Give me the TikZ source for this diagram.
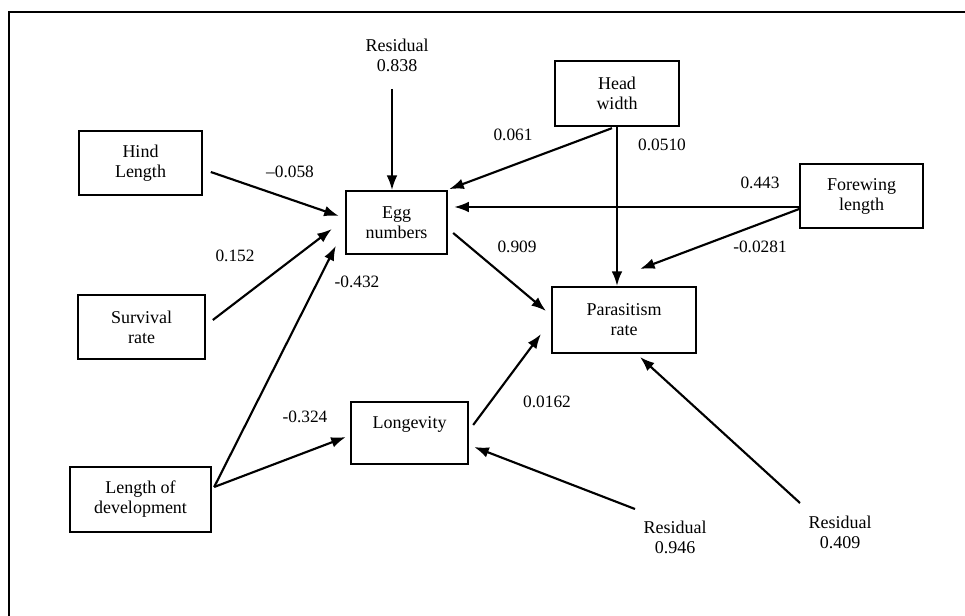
\documentclass[tikz,border=0pt]{standalone}
\usepackage{fontspec}
\setmainfont{Liberation Serif}
\usetikzlibrary{arrows.meta,calc}
\tikzset{
  box/.style={draw, line width=1.5pt, align=center, inner sep=0pt, font=\fontsize{13.5}{15}\selectfont},
  txt/.style={align=center, inner sep=0pt, font=\fontsize{13.5}{15}\selectfont},
  lbl/.style={inner sep=0pt, font=\fontsize{13}{15}\selectfont},
  arr/.style={line width=1.6pt, -{Latex[length=11pt,width=8pt]}},
}
\begin{document}
\begin{tikzpicture}[x=0.75pt,y=-0.75pt]
\useasboundingbox (0,0) rectangle (965,616);
\draw[line width=1.4pt] (965,12) -- (9,12) -- (9,616);

\node[box, minimum width=92pt, minimum height=48pt] (hind) at (140.5,163) {Hind\\Length};
\node[box, minimum width=76pt, minimum height=47pt] (egg) at (396.5,222.5) {Egg\\numbers};
\node[box, minimum width=93pt, minimum height=49pt] (head) at (617,93.5) {Head\\width};
\node[box, minimum width=92pt, minimum height=48pt] (fore) at (861.5,196) {Forewing\\length};
\node[box, minimum width=108pt, minimum height=49.5pt] (para) at (624,320) {Parasitism\\rate};
\node[box, minimum width=95pt, minimum height=48pt] (surv) at (141.5,327) {Survival\\rate};
\node[box, minimum width=88pt, minimum height=46.5pt] (long) at (409.5,433) {Longevity\\\mbox{}};
\node[box, minimum width=106pt, minimum height=49pt] (dev) at (140.5,499.5) {Length of\\development};

\node[txt] (r838) at (397,55) {Residual\\0.838};
\node[txt] (r946) at (675,537) {Residual\\0.946};
\node[txt] (r409) at (840,532) {Residual\\0.409};

% connectors
\draw[arr] ($(r838)+(-5,34)$) -- (egg.north -| {$(r838)+(-5,34)$});
\draw[arr] ($(hind.east)+(8,9)$) -- ($(egg.west)+(-6,-6.5)$);
\draw[arr] ($(surv.east)+(7,-7)$) -- ($(egg.west)+(-13,6.5)$);
\draw[arr] ($(dev.east)+(2,-12.5)$) -- ($(egg.south west)+(-9,-9)$);
\draw[arr] ($(dev.east)+(2,-12.5)$) -- ($(long.west)+(-4,4)$);
\draw[arr] ($(head.south)+(-5,1)$) -- ($(egg.north east)+(1,-1)$);
\draw[arr] (head.south) -- (head.south |- para.north);
\coordinate (fs) at ($(fore.west)+(0,11)$);
\draw[arr] (fs) -- ($(egg.east |- fs)+(6,0)$);
\draw[arr] ($(fore.west)+(0,13)$) -- ($(para.north)+(16,-17)$);
\draw[arr] ($(egg.east)+(5,10.5)$) -- ($(para.west)+(-5,-9)$);
\draw[arr] ($(long.east)+(4,-8)$) -- ($(para.south west)+(-10,-20)$);
\draw[arr] ($(r946)+(-40,-28)$) -- ($(long.east)+(5,14)$);
\draw[arr] ($(r409)+(-40,-29)$) -- ($(para.south)+(16,3)$);

% labels
\node[lbl] (l058) at (290,172) {–0.058};
\node[lbl] (l152) at (235,256) {0.152};
\node[lbl] (l432) at (357,282) {-0.432};
\node[lbl] (l324) at (305,417) {-0.324};
\node[lbl] (l061) at (513,135) {0.061};
\node[lbl] (l0510) at (662,145) {0.0510};
\node[lbl] (l443) at (760,183) {0.443};
\node[lbl] (l0281) at (760,247) {-0.0281};
\node[lbl] (l909) at (517,247) {0.909};
\node[lbl] (l0162) at (547,402) {0.0162};
\end{tikzpicture}
\end{document}
